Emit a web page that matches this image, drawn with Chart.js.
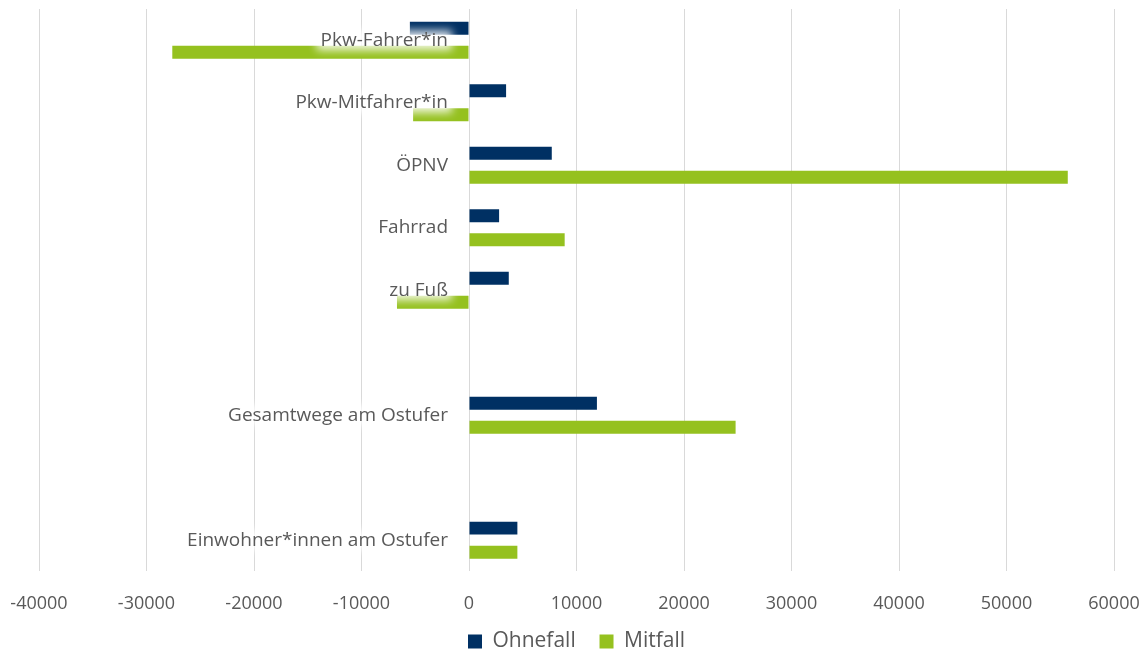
<!DOCTYPE html>
<html>
<head>
<meta charset="utf-8">
<script src="https://cdn.jsdelivr.net/npm/chart.js@4"></script>
<style>
  html, body { margin: 0; padding: 0; background: #fff; }
  #wrap { width: 1148px; height: 652px; }
</style>
</head>
<body>
<div id="wrap"><canvas id="chart"></canvas></div>
<script>
// categories, with blank rows as gaps like in the source
const categories = ['Pkw-Fahrer*in', 'Pkw-Mitfahrer*in', 'ÖPNV', 'Fahrrad', 'zu Fuß', '', 'Gesamtwege am Ostufer', '', 'Einwohner*innen am Ostufer'];
const ohnefall = [-5500, 3450, 7700, 2800, 3700, null, 11900, null, 4500];
const mitfall = [-27600, -5200, 55700, 8900, -6700, null, 24800, null, 4500];
const xMin = -40000;
const xMax = 60000;
const xStep = 10000;

const FONT = "'Open Sans', sans-serif";
const TEXT = '#595959';

// category labels sit next to the zero line, with a soft white halo
const axisLabels = {
    id: 'axisLabels',
    afterDatasetsDraw(chart) {
        const ctx = chart.ctx;
        const x0 = chart.scales.x.getPixelForValue(0) - 21;
        const yScale = chart.scales.y;
        ctx.save();
        ctx.font = '19px ' + FONT;
        ctx.textAlign = 'right';
        ctx.textBaseline = 'middle';
        categories.forEach((label, i) => {
            if (!label) return;
            const y = yScale.getPixelForValue(i);
            const w = ctx.measureText(label).width;
            ctx.save();
            ctx.filter = 'blur(4px)';
            ctx.fillStyle = 'rgba(255,255,255,0.85)';
            ctx.fillRect(x0 - w - 4, y - 10, w + 8, 20);
            ctx.restore();
            ctx.fillStyle = TEXT;
            ctx.fillText(label, x0, y);
        });
        ctx.restore();
    }
};

new Chart(document.getElementById('chart'), {
    type: 'bar',
    data: {
        labels: categories,
        datasets: [{
            label: 'Ohnefall',
            data: ohnefall,
            backgroundColor: '#003063'
        }, {
            label: 'Mitfall',
            data: mitfall,
            backgroundColor: '#95C11F'
        }]
    },
    options: {
        indexAxis: 'y',
        responsive: true,
        maintainAspectRatio: false,
        animation: false,
        categoryPercentage: 0.77,
        barPercentage: 0.54,
        layout: { padding: { left: 39, right: 34, top: 9, bottom: -10 } },
        scales: {
            x: {
                min: xMin,
                max: xMax,
                afterFit(scale) {
                    scale.paddingLeft = 0;
                    scale.paddingRight = 0;
                    scale.height -= 8;
                },
                ticks: {
                    stepSize: xStep,
                    color: TEXT,
                    font: { family: FONT, size: 18 },
                    padding: 22,
                    callback: v => String(v)
                },
                grid: { color: '#d9d9d9', drawTicks: false },
                border: { display: false }
            },
            y: {
                display: false
            }
        },
        plugins: {
            legend: {
                position: 'bottom',
                labels: {
                    color: TEXT,
                    font: { family: FONT, size: 21, lineHeight: 1.0 },
                    boxWidth: 14,
                    boxHeight: 14,
                    padding: 2,
                    generateLabels(chart) {
                        const items = Chart.defaults.plugins.legend.labels.generateLabels(chart);
                        items[0].text = items[0].text + '    ';
                        return items;
                    }
                }
            },
            tooltip: { enabled: false }
        }
    },
    plugins: [axisLabels]
});
</script>
</body>
</html>
